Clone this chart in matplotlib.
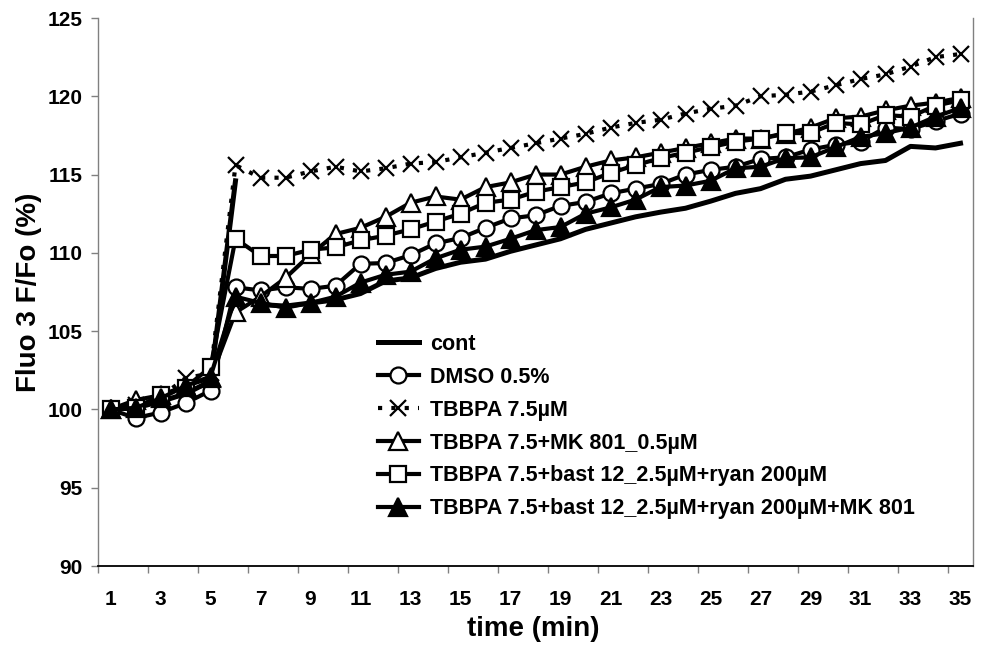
import matplotlib
matplotlib.use('Agg')
import matplotlib.pyplot as plt
import numpy as np

plt.rcParams['font.family'] = ['Liberation Sans', 'DejaVu Sans']
plt.rcParams['font.weight'] = 'bold'

# ---------------- data ----------------
time = list(range(1, 36))
xtick_labels = [str(v) for v in range(1, 36, 2)]
yticks = [90, 95, 100, 105, 110, 115, 120, 125]

cont = [100.0, 100.1, 100.5, 101.0, 101.8, 114.6, 106.7, 106.6, 106.8, 107.0,
        107.4, 108.2, 108.4, 109.0, 109.4, 109.6, 110.1, 110.5, 110.9, 111.5,
        111.9, 112.3, 112.6, 112.85, 113.3, 113.8, 114.1, 114.7, 114.9, 115.3,
        115.7, 115.9, 116.8, 116.7, 117.0]
dmso = [100.0, 99.45, 99.8, 100.4, 101.2, 107.8, 107.6, 107.8, 107.7, 107.9,
        109.3, 109.35, 109.85, 110.6, 110.95, 111.6, 112.2, 112.4, 113.0, 113.25,
        113.8, 114.1, 114.4, 115.0, 115.3, 115.5, 116.0, 116.1, 116.6, 116.9,
        117.1, 118.0, 117.9, 118.4, 118.9]
tbbpa = [100.0, 100.3, 100.8, 102.0, 102.3, 115.6, 114.8, 114.8, 115.2, 115.5,
         115.2, 115.4, 115.7, 115.8, 116.1, 116.4, 116.7, 117.0, 117.3, 117.6,
         118.0, 118.3, 118.5, 118.9, 119.2, 119.4, 120.0, 120.1, 120.3, 120.7,
         121.1, 121.4, 121.9, 122.5, 122.7]
mk801 = [100.0, 100.6, 100.9, 101.5, 102.0, 106.2, 107.2, 108.4, 109.9, 111.2,
         111.6, 112.3, 113.2, 113.6, 113.4, 114.2, 114.5, 115.0, 115.0, 115.5,
         115.9, 116.1, 116.4, 116.7, 117.0, 117.3, 117.3, 117.6, 118.0, 118.6,
         118.7, 119.1, 119.4, 119.6, 119.9]
bast_ryan = [100.0, 100.1, 100.9, 101.4, 102.7, 110.9, 109.8, 109.8, 110.2, 110.35,
             110.8, 111.1, 111.5, 112.0, 112.5, 113.2, 113.4, 113.9, 114.2, 114.5,
             115.1, 115.6, 116.05, 116.4, 116.75, 117.1, 117.3, 117.65, 117.65, 118.3,
             118.2, 118.8, 118.7, 119.4, 119.75]
bast_ryan_mk = [100.0, 100.1, 100.7, 101.5, 102.1, 107.2, 106.8, 106.5, 106.8, 107.2,
                108.1, 108.6, 108.8, 109.65, 110.2, 110.4, 110.9, 111.45, 111.65, 112.5,
                112.9, 113.4, 114.2, 114.3, 114.6, 115.4, 115.5, 116.05, 116.1, 116.75,
                117.4, 117.65, 118.0, 118.7, 119.25]

labels = ['cont', 'DMSO 0.5%', 'TBBPA 7.5\u00b5M', 'TBBPA 7.5+MK 801_0.5\u00b5M',
          'TBBPA 7.5+bast 12_2.5\u00b5M+ryan 200\u00b5M',
          'TBBPA 7.5+bast 12_2.5\u00b5M+ryan 200\u00b5M+MK 801']

# ---------------- figure ----------------
fig = plt.figure(figsize=(9.84, 6.53), dpi=100)
ax = fig.add_axes([98 / 984, 1 - 566 / 653, 875 / 984, 548 / 653])

t = np.array(time)
LW = 3.0
MEW = 1.6
k = dict(color='black', lw=LW, solid_joinstyle='round')

# cont: line breaks after the 6th point
ax.plot(t[:6], cont[:6], color='black', lw=3.6, label=labels[0], zorder=2)
ax.plot(t[6:], cont[6:], color='black', lw=3.6, zorder=2)
ax.plot(t, dmso, marker='o', ms=11.5, mfc='white', mec='black', mew=MEW,
        label=labels[1], zorder=3, **k)
ax.plot(t, tbbpa, color='black', lw=LW, ls=(0, (1.0, 2.2)), dash_capstyle='butt',
        marker='x', ms=12, mew=1.6, mec='black', label=labels[2], zorder=4)
ax.plot(t, mk801, marker='^', ms=12.5, mfc='white', mec='black', mew=MEW,
        label=labels[3], zorder=5, **k)
ax.plot(t, bast_ryan, marker='s', ms=11, mfc='white', mec='black', mew=MEW,
        label=labels[4], zorder=6, **k)
ax.plot(t, bast_ryan_mk, marker='^', ms=12.5, mfc='black', mec='black', mew=MEW,
        label=labels[5], zorder=7, **k)

ax.set_xlim(t[0] - 0.5, t[-1] + 0.5)
ax.set_ylim(yticks[0], yticks[-1])
ax.set_yticks(yticks)
ax.set_yticklabels([str(v) for v in yticks])
ax.set_xticks(t[::2])
ax.set_xticklabels(xtick_labels)
ax.set_xticks(t[::2] - 0.5, minor=True)

ax.tick_params(axis='y', direction='out', length=5, width=1, color='#808080',
               pad=6, labelsize=15)
ax.tick_params(axis='x', which='major', length=0, pad=17, labelsize=15)
ax.tick_params(axis='x', which='minor', direction='out', length=5, width=1,
               color='#808080')

for side in ['left', 'right']:
    ax.spines[side].set_color('#808080')
    ax.spines[side].set_linewidth(1.0)
ax.spines['bottom'].set_color('black')
ax.spines['bottom'].set_linewidth(1.3)
ax.spines['top'].set_visible(False)

ax.set_xlabel('time (min)', fontsize=20, fontweight='bold')
ax.set_ylabel('Fluo 3 F/Fo (%)', fontsize=20, fontweight='bold')
ax.xaxis.set_label_coords(0.497, -0.092)
ax.yaxis.set_label_coords(-0.064, 0.5)

leg = ax.legend(loc='upper left', bbox_to_anchor=((378 - 98) / 875, (566 - 334) / 548),
                frameon=False, fontsize=15.5, handlelength=1.9, handletextpad=0.5,
                labelspacing=0.55, borderpad=0, borderaxespad=0, numpoints=1)

fig.savefig('out.png', dpi=100)
